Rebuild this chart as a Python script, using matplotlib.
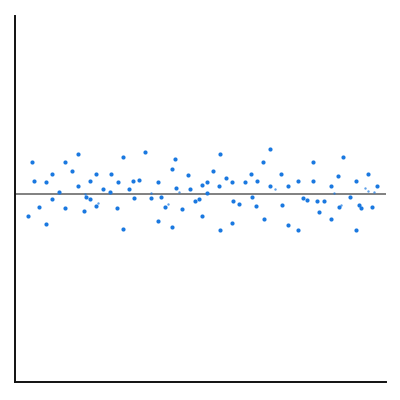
import matplotlib
matplotlib.use('Agg')
import matplotlib.pyplot as plt
import numpy as np

# point positions (x: 0-100, y: offset from baseline)
x_vals = [3.6, 4.6, 5.2, 6.6, 8.4, 8.4, 10.1, 9.9, 11.9, 13.6, 13.6, 15.3, 17.1, 17.1,
          18.6, 19.2, 20.3, 20.3, 21.9, 21.9, 23.9, 25.7, 25.9, 27.5, 27.7, 29.2,
          29.2, 30.8, 31.8, 32.1, 33.4, 35.1, 36.7, 38.6, 38.6, 39.5, 40.5, 42.4,
          43.2, 42.4, 43.5, 45.1, 46.8, 47.2, 48.7, 49.8, 50.4, 50.4, 51.9, 51.9,
          53.5, 55.2, 55.4, 55.4, 57.0, 58.6, 58.9, 58.7, 60.4, 62.1, 63.8, 63.9,
          65.1, 65.4, 67.0, 67.2, 68.7, 68.9, 71.9, 72.0, 73.7, 73.8, 76.3, 76.3,
          77.6, 78.8, 80.5, 80.5, 81.4, 82.0, 83.5, 85.2, 85.2, 87.2, 87.3, 88.5,
          90.3, 92.0, 92.1, 92.7, 93.5, 95.3, 96.4, 97.8]
y_vals = [-1.12, 1.59, 0.64, -0.67, 0.62, -1.52, 0.99, -0.24, 0.10, 1.62, -0.70, 1.15,
          2.02, 0.40, -0.85, -0.15, -0.25, 0.67, 1.00, -0.60, 0.25, 0.10, 0.99, -0.70,
          0.62, 1.87, -1.74, 0.25, 0.64, -0.22, 0.72, 2.12, -0.22, 0.62, -1.34, -0.14,
          -0.67, 1.27, 1.74, -1.65, 0.32, -0.74, 0.97, 0.27, -0.34, -0.25, 0.44, -1.12,
          0.62, 0.04, 1.17, 0.40, 2.02, -1.82, 0.80, 0.59, -0.35, -1.45, -0.52, 0.62,
          1.00, -0.17, -0.62, 0.63, 1.62, -1.25, 2.27, 0.42, 0.99, -0.54, -1.54, 0.40,
          0.67, -1.82, -0.20, -0.30, 1.62, 0.65, -0.34, -0.90, -0.34, 0.42, -1.27,
          0.92, -0.65, 1.87, -0.17, 0.64, -1.82, -0.57, -0.69, 0.99, -0.64, 0.40]

# faint small points
x_small = [18.9, 22.5, 36.8, 41.2, 44.3, 70.3, 86.1, 87.9, 94.5, 95.3, 96.9]
y_small = [-0.02, -0.45, 0.07, -0.50, 0.12, 0.25, 0.04, -0.54, 0.29, 0.15, 0.09]

fig = plt.figure(figsize=(4, 4), dpi=100)
ax = fig.add_axes([0.037, 0.045, 0.927, 0.915])

ax.axhline(0, color='#808080', lw=1.4, zorder=1)
ax.scatter(x_vals, y_vals, s=9, color='#1a78e0', linewidths=0, zorder=2)
ax.scatter(x_small, y_small, s=3, color='#1a78e0', alpha=0.7, linewidths=0, zorder=2)

ax.set_xlim(0, 100)
ax.set_ylim(-9.4, 8.9)
ax.set_xticks([])
ax.set_yticks([])
for side in ['top', 'right']:
    ax.spines[side].set_visible(False)
for side in ['left', 'bottom']:
    ax.spines[side].set_linewidth(1.4)
    ax.spines[side].set_color('#111111')

fig.savefig('out.png', dpi=100)
